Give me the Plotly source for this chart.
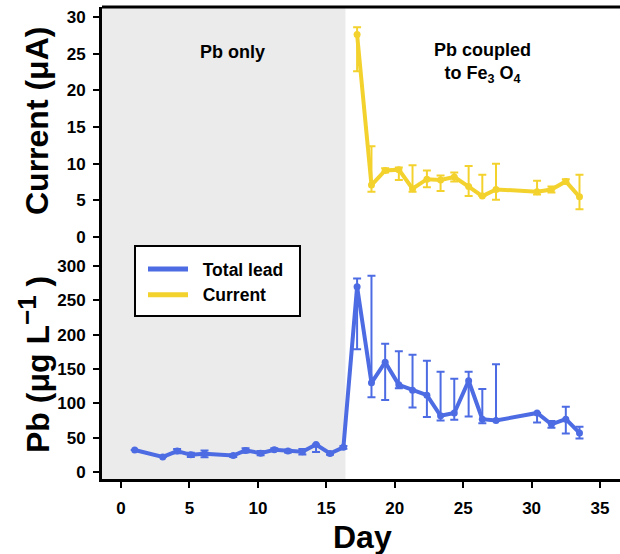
import plotly.graph_objects as go

# ---- data ----
lead_day = [1.0, 3.05, 4.1, 5.1, 6.1, 8.2, 9.1, 10.2, 11.2, 12.2, 13.25, 14.25, 15.27, 16.25,
            17.25, 18.3, 19.3, 20.3, 21.3, 22.35, 23.35, 24.35, 25.4, 26.4, 27.4, 30.4, 31.45, 32.5, 33.5]
lead_val = [32, 22, 30.5, 25, 26.5, 24, 31.5, 27.5, 32.5, 30.5, 29.5, 40, 27, 36,
            270, 130, 160, 127, 119, 112, 82, 86, 133, 77, 75, 86, 69.5, 77, 57]
lead_err_plus = [0, 0, 3, 3, 5, 2, 3, 3, 2, 2, 4, 0, 2, 2,
                 12, 156, 27, 49, 52, 50, 64, 50, 13, 44, 82, 0, 5, 18, 9]
lead_err_minus = [0, 0, 3, 3, 5, 2, 3, 3, 2, 2, 4, 11, 2, 2,
                  91, 21, 55, 5, 25, 32, 7, 10, 52, 6, 0, 14, 5, 21, 8]

cur_day = [17.25, 18.3, 19.3, 20.3, 21.3, 22.35, 23.35, 24.35, 25.4, 26.4, 27.4, 30.4, 31.45, 32.5, 33.5]
cur_val = [27.6, 7.1, 9.1, 9.2, 6.6, 7.9, 7.8, 8.2, 6.9, 5.6, 6.5, 6.2, 6.5, 7.6, 5.5]
cur_err_plus = [1.0, 5.3, 0.3, 0.3, 3.2, 1.2, 0.6, 0.6, 2.8, 2.9, 3.5, 1.5, 0.4, 0.3, 3.0]
cur_err_minus = [5.0, 0.9, 0.3, 1.4, 0.4, 1.1, 1.5, 0.6, 1.3, 0, 1.4, 0.4, 0.4, 0.3, 1.7]

x_ticks = [0, 5, 10, 15, 20, 25, 30, 35]
cur_ticks = [0, 5, 10, 15, 20, 25, 30]
lead_ticks = [0, 50, 100, 150, 200, 250, 300]

shade_end = 16.4

BLUE = "#4d6ce3"
YELLOW = "#f3d22e"
FONT = "Liberation Sans, Arial, sans-serif"

# plot-area geometry (pixels) used to convert to paper coords
L, T, W, H = 102, 7, 518, 472
def px(x):
    return (x - L) / W
def py(y):
    return (T + H - y) / H

fig = go.Figure()

fig.add_trace(go.Scatter(
    x=lead_day, y=lead_val, mode="lines+markers",
    line=dict(color=BLUE, width=4), marker=dict(color=BLUE, size=7),
    error_y=dict(type="data", array=lead_err_plus, arrayminus=lead_err_minus,
                 color=BLUE, thickness=2, width=4),
    xaxis="x", yaxis="y", showlegend=False))

fig.add_trace(go.Scatter(
    x=cur_day, y=cur_val, mode="lines+markers",
    line=dict(color=YELLOW, width=4), marker=dict(color=YELLOW, size=7),
    error_y=dict(type="data", array=cur_err_plus, arrayminus=cur_err_minus,
                 color=YELLOW, thickness=2, width=4),
    xaxis="x", yaxis="y2", showlegend=False))

# legend-only entries
fig.add_trace(go.Scatter(x=[None], y=[None], mode="lines", name="\u00a0\u00a0Total lead",
                         line=dict(color=BLUE, width=5), xaxis="x", yaxis="y"))
fig.add_trace(go.Scatter(x=[None], y=[None], mode="lines", name="\u00a0\u00a0Current",
                         line=dict(color=YELLOW, width=5), xaxis="x", yaxis="y"))

tickfont = dict(family=FONT, size=17, color="black", weight="bold")
axis_common = dict(showline=True, linecolor="black", linewidth=3, ticks="outside",
                   ticklen=6, tickwidth=2, tickcolor="black", showgrid=False,
                   zeroline=False, tickfont=tickfont)

fig.update_layout(
    width=620, height=554,
    margin=dict(l=L, r=0, t=T, b=554 - T - H),
    plot_bgcolor="white", paper_bgcolor="white",
    font=dict(family=FONT, color="black"),
    xaxis=dict(range=[-1.39, 36.46], tickvals=x_ticks, anchor="y",
               ticklabelstandoff=6, **axis_common),
    yaxis=dict(domain=[0, 0.489], range=[-10.2, 326.2], tickvals=lead_ticks,
               anchor="x", ticklabelstandoff=4, **axis_common),
    yaxis2=dict(domain=[0.489, 1], range=[-1.5, 31.36], tickvals=cur_ticks,
                anchor="x", ticklabelstandoff=4, **axis_common),
    legend=dict(x=px(143), y=py(251), xanchor="left", yanchor="top",
                bgcolor="rgba(0,0,0,0)", borderwidth=0,
                font=dict(family=FONT, size=17.5, color="black", weight="bold"),
                tracegroupgap=0, itemwidth=40),
    shapes=[
        dict(type="rect", xref="x", yref="paper", x0=-1.39, x1=shade_end, y0=0, y1=1,
             fillcolor="#ebebeb", line=dict(width=0), layer="below"),
        dict(type="line", xref="paper", yref="paper", x0=0, x1=1, y0=1, y1=1,
             line=dict(color="black", width=3)),
        dict(type="rect", xref="paper", yref="paper", x0=px(135), x1=px(300),
             y0=py(316), y1=py(246), fillcolor="white",
             line=dict(color="black", width=2), layer="above"),
    ],
    annotations=[
        dict(text="Pb only", xref="paper", yref="paper", x=px(232), y=py(52),
             xanchor="center", yanchor="middle", showarrow=False,
             font=dict(family=FONT, size=18, weight="bold")),
        dict(text="Pb coupled<br>to Fe<sub>3</sub> O<sub>4</sub>", xref="paper", yref="paper",
             x=px(482), y=py(63), xanchor="center", yanchor="middle", showarrow=False,
             font=dict(family=FONT, size=18, weight="bold")),
        dict(text="Current (μA)", xref="paper", yref="paper", x=px(37), y=py(121),
             xanchor="center", yanchor="middle", textangle=-90, showarrow=False,
             font=dict(family=FONT, size=32, weight="bold")),
        dict(text="Pb (μg L<sup><span style='font-size:26px'>−1</span></sup>\u00a0)",
             xref="paper", yref="paper", x=px(34), y=py(365),
             xanchor="center", yanchor="middle", textangle=-90, showarrow=False,
             font=dict(family=FONT, size=32, weight="bold")),
        dict(text="Day", xref="paper", yref="paper", x=px(362), y=py(537),
             xanchor="center", yanchor="middle", showarrow=False,
             font=dict(family=FONT, size=32, weight="bold")),
    ],
)

fig.write_html("out.html")
